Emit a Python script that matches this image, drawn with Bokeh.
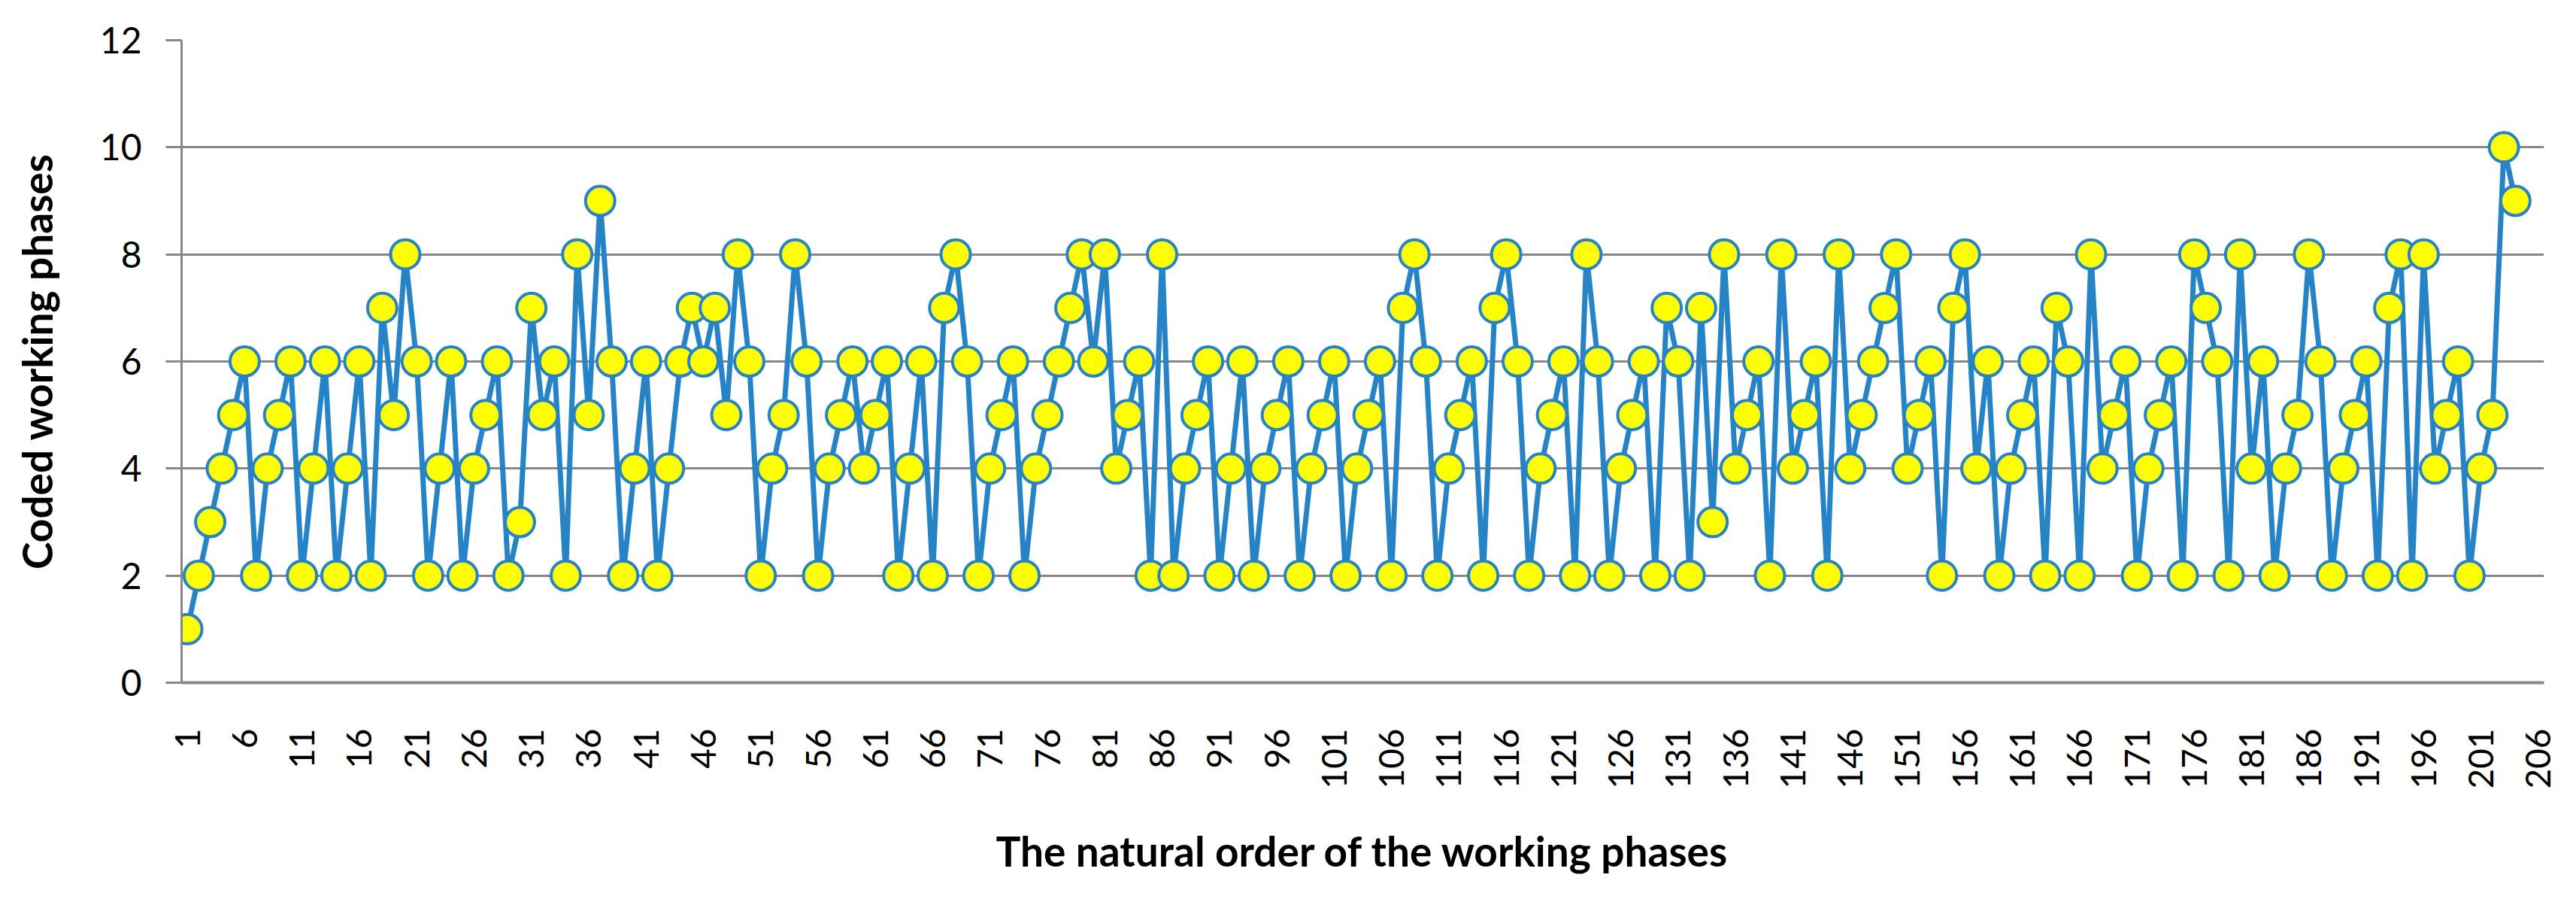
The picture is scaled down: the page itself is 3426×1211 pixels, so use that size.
from math import pi
from bokeh.plotting import figure
from bokeh.models import FixedTicker, Range1d
from bokeh.embed import file_html
from bokeh.resources import INLINE

# Coded working phase for each working phase in natural order
phase_values = [
    1, 2, 3, 4, 5, 6, 2, 4, 5, 6,
    2, 4, 6, 2, 4, 6, 2, 7, 5, 8,
    6, 2, 4, 6, 2, 4, 5, 6, 2, 3,
    7, 5, 6, 2, 8, 5, 9, 6, 2, 4,
    6, 2, 4, 6, 7, 6, 7, 5, 8, 6,
    2, 4, 5, 8, 6, 2, 4, 5, 6, 4,
    5, 6, 2, 4, 6, 2, 7, 8, 6, 2,
    4, 5, 6, 2, 4, 5, 6, 7, 8, 6,
    8, 4, 5, 6, 2, 8, 2, 4, 5, 6,
    2, 4, 6, 2, 4, 5, 6, 2, 4, 5,
    6, 2, 4, 5, 6, 2, 7, 8, 6, 2,
    4, 5, 6, 2, 7, 8, 6, 2, 4, 5,
    6, 2, 8, 6, 2, 4, 5, 6, 2, 7,
    6, 2, 7, 3, 8, 4, 5, 6, 2, 8,
    4, 5, 6, 2, 8, 4, 5, 6, 7, 8,
    4, 5, 6, 2, 7, 8, 4, 6, 2, 4,
    5, 6, 2, 7, 6, 2, 8, 4, 5, 6,
    2, 4, 5, 6, 2, 8, 7, 6, 2, 8,
    4, 6, 2, 4, 5, 8, 6, 2, 4, 5,
    6, 2, 7, 8, 2, 8, 4, 5, 6, 2,
    4, 5, 10, 9,
]
phase_order = list(range(1, len(phase_values) + 1))
n_categories = 206

x_tick_values = [1, 6, 11, 16, 21, 26, 31, 36, 41, 46, 51, 56, 61, 66, 71, 76,
                 81, 86, 91, 96, 101, 106, 111, 116, 121, 126, 131, 136, 141,
                 146, 151, 156, 161, 166, 171, 176, 181, 186, 191, 196, 201, 206]
y_tick_values = [0, 2, 4, 6, 8, 10, 12]

x_title = "The natural order of the working phases"
y_title = "Coded working phases"

FONT = "Lato"
GRID = "#878787"
BLUE = "#2683C6"

p = figure(width=3410, height=1195, output_backend="svg", toolbar_location=None,
           x_range=Range1d(0.5, n_categories + 0.5), y_range=Range1d(0, 12),
           min_border_left=241, min_border_right=27, min_border_top=53,
           min_border_bottom=288)
p.outline_line_color = None
p.background_fill_color = "white"
p.border_fill_color = "white"

p.line(phase_order, phase_values, line_color=BLUE, line_width=7)
p.scatter(phase_order, phase_values, size=39, fill_color="#FFFF00",
          line_color=BLUE, line_width=4)

# grid
p.xgrid.grid_line_color = None
p.ygrid.ticker = FixedTicker(ticks=y_tick_values)
p.ygrid.grid_line_color = GRID
p.ygrid.grid_line_width = 3

# y axis
p.yaxis.ticker = FixedTicker(ticks=y_tick_values)
p.yaxis.axis_line_color = GRID
p.yaxis.axis_line_width = 3
p.yaxis.major_tick_line_color = GRID
p.yaxis.major_tick_line_width = 3
p.yaxis.major_tick_out = 21
p.yaxis.major_tick_in = 0
p.yaxis.minor_tick_line_color = None
p.yaxis.major_label_text_font = FONT
p.yaxis.major_label_text_font_size = "48px"
p.yaxis.major_label_text_color = "black"
p.yaxis.major_label_standoff = 32
p.yaxis.axis_label = y_title
p.yaxis.axis_label_text_font = FONT
p.yaxis.axis_label_text_font_size = "55px"
p.yaxis.axis_label_text_font_style = "bold"
p.yaxis.axis_label_text_color = "black"
p.yaxis.axis_label_standoff = 48

# x axis
p.xaxis.ticker = FixedTicker(ticks=x_tick_values)
p.xaxis.axis_line_color = GRID
p.xaxis.axis_line_width = 4
p.xaxis.major_tick_line_color = None
p.xaxis.major_tick_out = 0
p.xaxis.major_tick_in = 0
p.xaxis.minor_tick_line_color = None
p.xaxis.major_label_orientation = pi / 2
p.xaxis.major_label_text_font = FONT
p.xaxis.major_label_text_font_size = "46px"
p.xaxis.major_label_text_color = "black"
p.xaxis.major_label_standoff = 61
p.xaxis.axis_label = x_title
p.xaxis.axis_label_text_font = FONT
p.xaxis.axis_label_text_font_size = "55px"
p.xaxis.axis_label_text_font_style = "bold"
p.xaxis.axis_label_text_color = "black"
p.xaxis.axis_label_standoff = 46

open("out.html", "w").write(file_html(p, INLINE))
